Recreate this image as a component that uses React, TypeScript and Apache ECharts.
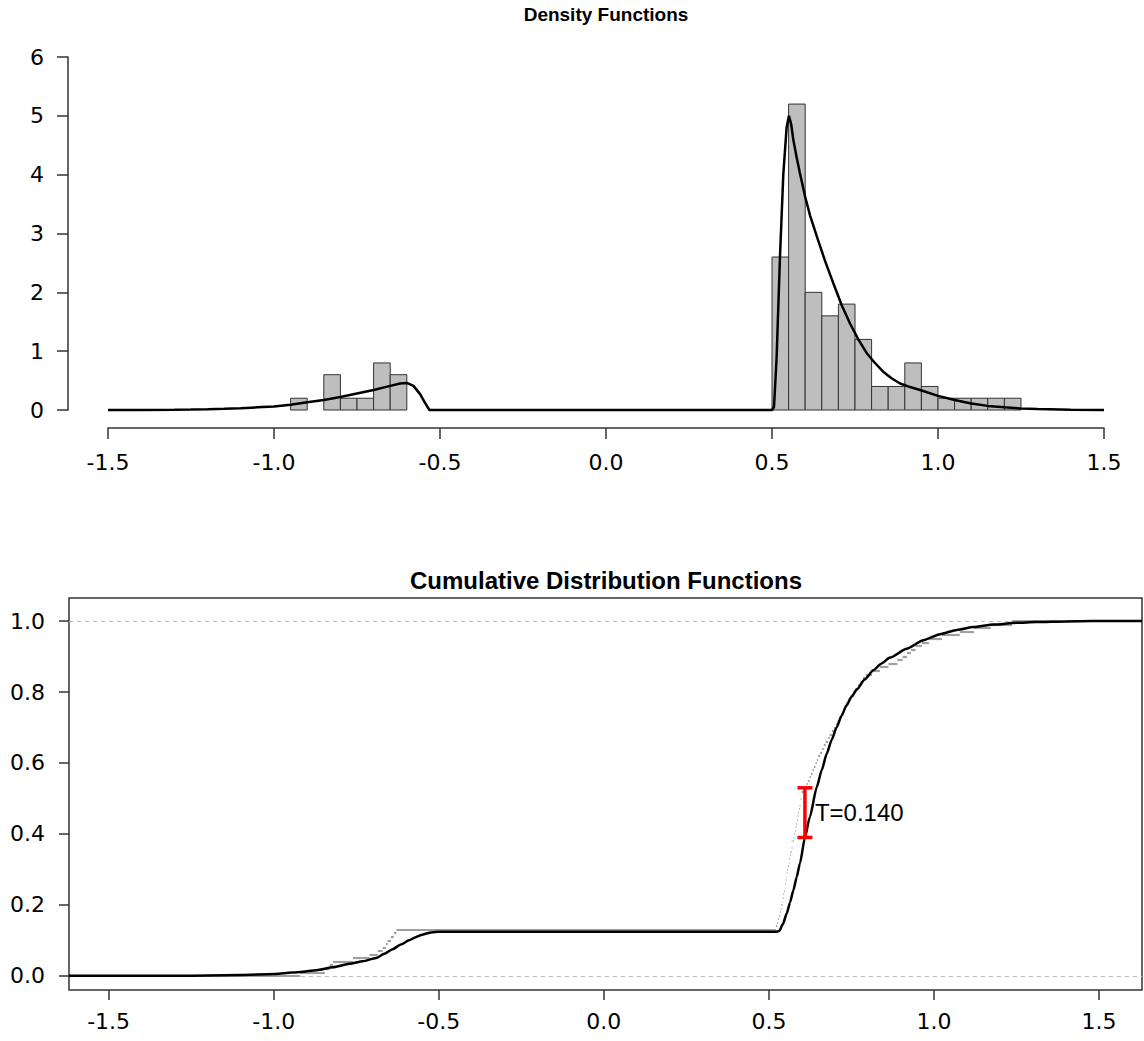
import React, { useEffect, useRef } from "react";
import * as echarts from "echarts";

// ---- axis ticks ----
const xTicks = [-1.5, -1.0, -0.5, 0.0, 0.5, 1.0, 1.5];
const densityYTicks = [0, 1, 2, 3, 4, 5, 6];
const cdfYTicks = [0, 0.2, 0.4, 0.6, 0.8, 1.0];

// ---- histogram (density scale), bins of width 0.05 ----
const binWidth = 0.05;
const histBinStarts = [
  -0.95, -0.9, -0.85, -0.8, -0.75, -0.7, -0.65,
  0.5, 0.55, 0.6, 0.65, 0.7, 0.75, 0.8, 0.85, 0.9, 0.95, 1.0, 1.05, 1.1, 1.15, 1.2,
];
const histDensities = [
  0.2, 0, 0.6, 0.2, 0.2, 0.8, 0.6,
  2.6, 5.2, 2.0, 1.6, 1.8, 1.2, 0.4, 0.4, 0.8, 0.4, 0.2, 0.2, 0.2, 0.2, 0.2,
];

// ---- fitted density curve ----
const densityX = [
  -1.5, -1.4, -1.3, -1.25, -1.2, -1.15, -1.1, -1.05, -1.0, -0.95, -0.9, -0.85, -0.8,
  -0.75, -0.7, -0.65, -0.62, -0.6, -0.58, -0.56, -0.545, -0.532, -0.5, 0.0, 0.5,
  0.506, 0.514, 0.524, 0.534, 0.544, 0.551, 0.558, 0.564, 0.574, 0.584, 0.6, 0.615,
  0.635, 0.66, 0.685, 0.71, 0.735, 0.76, 0.785, 0.81, 0.835, 0.86, 0.886, 0.916,
  0.946, 1.0, 1.05, 1.1, 1.15, 1.2, 1.25, 1.3, 1.4, 1.5,
];
const densityY = [
  0, 0.002, 0.005, 0.008, 0.013, 0.02, 0.03, 0.045, 0.06, 0.09, 0.13, 0.17, 0.22,
  0.28, 0.34, 0.41, 0.45, 0.46, 0.41, 0.27, 0.12, 0, 0, 0, 0,
  0.05, 0.9, 2.6, 4.0, 4.8, 5.0, 4.85, 4.6, 4.3, 4.03, 3.62, 3.3,
  2.95, 2.53, 2.15, 1.78, 1.47, 1.2, 0.97, 0.8, 0.65, 0.54, 0.45, 0.39,
  0.34, 0.24, 0.17, 0.11, 0.07, 0.045, 0.025, 0.015, 0.006, 0.002,
];

// ---- fitted cumulative distribution ----
const cdfX = [
  -1.62, -1.3, -1.2, -1.1, -1.0, -0.97, -0.92, -0.87, -0.82, -0.77, -0.73, -0.69,
  -0.665, -0.64, -0.615, -0.59, -0.57, -0.55, -0.535, -0.52, -0.5, 0.0, 0.52, 0.531,
  0.542, 0.554, 0.564, 0.574, 0.584, 0.594, 0.609, 0.624, 0.645, 0.66, 0.675, 0.69,
  0.705, 0.72, 0.735, 0.75, 0.766, 0.79, 0.816, 0.84, 0.867, 0.917, 0.968, 1.018,
  1.069, 1.12, 1.18, 1.25, 1.31, 1.4, 1.48, 1.63,
];
const cdfY = [
  0, 0, 0.001, 0.002, 0.005, 0.007, 0.011, 0.016, 0.024, 0.034, 0.041, 0.05,
  0.062, 0.075, 0.088, 0.1, 0.109, 0.116, 0.12, 0.123, 0.124, 0.124, 0.124, 0.126,
  0.145, 0.176, 0.207, 0.241, 0.278, 0.317, 0.39, 0.448, 0.532, 0.58, 0.626, 0.665,
  0.7, 0.733, 0.762, 0.786, 0.807, 0.835, 0.861, 0.88, 0.897, 0.922, 0.946, 0.963,
  0.975, 0.983, 0.99, 0.995, 0.997, 0.999, 1.0, 1.0,
];

// ---- observed sample (n = 100) for the empirical CDF ----
const sample = [
  -0.92, -0.845, -0.83, -0.82, -0.76, -0.71, -0.685, -0.67, -0.66, -0.655, -0.645, -0.636, -0.628,
  0.521, 0.525, 0.528, 0.531, 0.534, 0.536, 0.538, 0.541, 0.542, 0.544, 0.546, 0.548, 0.549,
  0.551, 0.553, 0.554, 0.556, 0.558, 0.561, 0.562, 0.564, 0.566, 0.569, 0.571, 0.572, 0.575,
  0.577, 0.579, 0.581, 0.583, 0.585, 0.587, 0.589, 0.591, 0.593, 0.595, 0.596, 0.598, 0.599,
  0.609, 0.614, 0.618, 0.623, 0.627, 0.632, 0.636, 0.641, 0.645, 0.649,
  0.655, 0.661, 0.666, 0.672, 0.679, 0.684, 0.691, 0.697,
  0.703, 0.708, 0.714, 0.719, 0.724, 0.73, 0.735, 0.741, 0.747,
  0.756, 0.762, 0.77, 0.777, 0.785, 0.793,
  0.812, 0.836, 0.862, 0.889, 0.905, 0.918, 0.93, 0.944, 0.963, 0.985,
  1.024, 1.078, 1.121, 1.172, 1.236,
];

// ---- test statistic: largest gap between empirical and fitted CDF ----
const statX = 0.609;
const statLow = 0.39;
const statHigh = 0.53;

// ---- plotting ranges ----
const densityXRange = [-1.5, 1.5];
const densityYRange = [0, 6];
const cdfXRange = [-1.62, 1.63];
const cdfYRange = [-0.04, 1.065];

const tickFont = {
  fontFamily: '"DejaVu Sans", "Liberation Sans", sans-serif',
  fontSize: 22,
  color: "#000",
};
const titleBase = {
  fontFamily: '"Liberation Sans", Arial, sans-serif',
  fontWeight: "bold" as const,
  color: "#000",
};
const axisStroke = { color: "#333", width: 1.5 };

function ecdfSegments(values: number[], xMin: number, xMax: number) {
  const s = [...values].sort((a, b) => a - b);
  const n = s.length;
  const segs: number[][][] = [];
  segs.push([[xMin, 0], [s[0], 0]]);
  for (let i = 0; i < n; i++) {
    const next = i < n - 1 ? s[i + 1] : xMax;
    const f = (i + 1) / n;
    segs.push([[s[i], f], [next, f]]);
  }
  return segs;
}

export default function App() {
  const ref = useRef<HTMLDivElement>(null);

  useEffect(() => {
    if (!ref.current) return;
    const chart = echarts.init(ref.current, undefined, { renderer: "svg" });

    const histData = histBinStarts
      .map((s, i) => [s, s + binWidth, histDensities[i]])
      .filter((d) => d[2] > 0);

    const option: any = {
      animation: false,
      backgroundColor: "#fff",
      title: [
        {
          text: "Density Functions",
          left: 606,
          top: 5,
          textAlign: "center",
          padding: 0,
          textStyle: { ...titleBase, fontSize: 19 },
        },
        {
          text: "Cumulative Distribution Functions",
          left: 606,
          top: 568,
          textAlign: "center",
          padding: 0,
          textStyle: { ...titleBase, fontSize: 24 },
        },
      ],
      grid: [
        { left: 108, top: 57, width: 996, height: 353 },
        {
          left: 69,
          top: 598,
          width: 1073,
          height: 392,
          show: true,
          borderColor: "#333",
          borderWidth: 1.5,
          backgroundColor: "transparent",
        },
      ],
      xAxis: [
        {
          gridIndex: 0,
          type: "value",
          min: densityXRange[0],
          max: densityXRange[1],
          interval: 0.5,
          offset: 18,
          axisLine: { show: true, onZero: false, lineStyle: axisStroke },
          axisTick: { show: true, length: 11, lineStyle: axisStroke },
          axisLabel: { margin: 23, formatter: (v: number) => v.toFixed(1), ...tickFont },
          splitLine: { show: false },
        },
        {
          gridIndex: 1,
          type: "value",
          min: cdfXRange[0],
          max: cdfXRange[1],
          axisLine: { show: false, onZero: false },
          axisTick: { show: true, length: 10, customValues: xTicks, lineStyle: axisStroke },
          axisLabel: {
            customValues: xTicks,
            margin: 20,
            formatter: (v: number) => v.toFixed(1),
            ...tickFont,
          },
          splitLine: { show: false },
        },
      ],
      yAxis: [
        {
          gridIndex: 0,
          type: "value",
          min: densityYRange[0],
          max: densityYRange[1],
          interval: 1,
          offset: 40,
          axisLine: { show: true, onZero: false, lineStyle: axisStroke },
          axisTick: { show: true, length: 11, customValues: densityYTicks, lineStyle: axisStroke },
          axisLabel: { customValues: densityYTicks, margin: 24, ...tickFont },
          splitLine: { show: false },
        },
        {
          gridIndex: 1,
          type: "value",
          min: cdfYRange[0],
          max: cdfYRange[1],
          axisLine: { show: false, onZero: false },
          axisTick: { show: true, length: 10, customValues: cdfYTicks, lineStyle: axisStroke },
          axisLabel: {
            customValues: cdfYTicks,
            margin: 24,
            formatter: (v: number) => v.toFixed(1),
            ...tickFont,
          },
          splitLine: { show: false },
        },
      ],
      series: [
        // histogram bars
        {
          type: "custom",
          xAxisIndex: 0,
          yAxisIndex: 0,
          clip: false,
          silent: true,
          data: histData,
          encode: { x: [0, 1], y: 2 },
          renderItem: (_params: any, api: any) => {
            const p0 = api.coord([api.value(0), api.value(2)]);
            const p1 = api.coord([api.value(1), 0]);
            return {
              type: "rect",
              shape: { x: p0[0], y: p0[1], width: p1[0] - p0[0], height: p1[1] - p0[1] },
              style: { fill: "#bebebe", stroke: "#333", lineWidth: 1 },
            };
          },
          z: 2,
        },
        // fitted density
        {
          type: "line",
          xAxisIndex: 0,
          yAxisIndex: 0,
          data: densityX.map((x, i) => [x, densityY[i]]),
          showSymbol: false,
          symbol: "none",
          clip: false,
          silent: true,
          lineStyle: { color: "#000", width: 2.5 },
          z: 3,
        },
        // reference levels 0 and 1
        {
          type: "lines",
          coordinateSystem: "cartesian2d",
          xAxisIndex: 1,
          yAxisIndex: 1,
          polyline: false,
          silent: true,
          lineStyle: { color: "#bdbdbd", width: 1, type: [4, 4], opacity: 1 },
          data: [0, 1].map((lvl) => ({
            coords: [
              [cdfXRange[0], lvl],
              [cdfXRange[1], lvl],
            ],
          })),
          z: 1,
        },
        // empirical CDF (horizontal steps)
        {
          type: "lines",
          coordinateSystem: "cartesian2d",
          xAxisIndex: 1,
          yAxisIndex: 1,
          polyline: false,
          silent: true,
          lineStyle: { color: "#a0a0a0", width: 2.2, opacity: 1, cap: "butt" },
          data: ecdfSegments(sample, cdfXRange[0], cdfXRange[1]).map((c) => ({ coords: c })),
          z: 2,
        },
        // fitted CDF
        {
          type: "line",
          xAxisIndex: 1,
          yAxisIndex: 1,
          data: cdfX.map((x, i) => [x, cdfY[i]]),
          showSymbol: false,
          symbol: "none",
          silent: true,
          smooth: 0.2,
          smoothMonotone: "x",
          lineStyle: { color: "#000", width: 2.5 },
          z: 3,
        },
        // statistic bar with label
        {
          type: "custom",
          xAxisIndex: 1,
          yAxisIndex: 1,
          clip: false,
          silent: true,
          data: [[statX, statLow, statHigh]],
          encode: { x: 0, y: [1, 2] },
          renderItem: (_params: any, api: any) => {
            const x = api.value(0);
            const lo = api.value(1);
            const hi = api.value(2);
            const pLo = api.coord([x, lo]);
            const pHi = api.coord([x, hi]);
            const pMid = api.coord([x, (lo + hi) / 2]);
            const cap = 7.5;
            const red = { stroke: "#ff0000", lineWidth: 3.5 };
            return {
              type: "group",
              children: [
                { type: "line", shape: { x1: pLo[0], y1: pLo[1], x2: pHi[0], y2: pHi[1] }, style: red },
                { type: "line", shape: { x1: pLo[0] - cap, y1: pLo[1], x2: pLo[0] + cap, y2: pLo[1] }, style: red },
                { type: "line", shape: { x1: pHi[0] - cap, y1: pHi[1], x2: pHi[0] + cap, y2: pHi[1] }, style: red },
                {
                  type: "text",
                  x: pMid[0] + 10,
                  y: pMid[1],
                  style: {
                    text: "T=" + (hi - lo).toFixed(3),
                    fill: "#000",
                    font: '24px "Liberation Sans", Arial, sans-serif',
                    align: "left",
                    verticalAlign: "middle",
                  },
                },
              ],
            };
          },
          z: 5,
        },
      ],
    };

    chart.setOption(option);
    return () => chart.dispose();
  }, []);

  return (
    <div
      ref={ref}
      style={{ position: "absolute", left: 0, top: 0, width: 1144, height: 1041 }}
    />
  );
}
